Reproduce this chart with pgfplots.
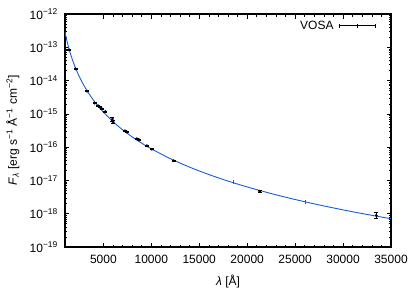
\documentclass[border=0pt]{standalone}
\usepackage{pgfplots}
\pgfplotsset{compat=1.18}
\usepackage{pgfplotstable}
\usepackage{fontspec}
\setmainfont{Liberation Sans}
\definecolor{modelblue}{rgb}{0.10,0.36,0.85}

\pgfplotstableread{
x y e
1420 8.4e-14 2.0e-15
2100 2.25e-14 6.0e-16
3300 4.8e-15 1.5e-16
4100 2.1e-15 6.0e-17
4450 1.75e-15 5.0e-17
4650 1.6e-15 5.0e-17
4850 1.42e-15 4.0e-17
5200 1.18e-15 3.0e-17
5950 7.0e-16 1.0e-16
6020 5.7e-16 6.0e-17
7250 3.1e-16 1.0e-17
7450 2.85e-16 1.0e-17
8500 1.8e-16 5.0e-18
8750 1.65e-16 5.0e-18
9540 1.10e-16 3.0e-18
10060 8.7e-17 2.5e-18
12323 3.9e-17 1.2e-18
21313 4.7e-18 3.0e-19
33469 8.9e-19 1.8e-19
}\vosa

\pgfplotstableread{
x y
1000 2.858e-13
1100 2.089e-13
1200 1.567e-13
1300 1.201e-13
1400 9.38e-14
1500 7.44e-14
1700 4.88e-14
1900 3.35e-14
2100 2.378e-14
2400 1.502e-14
2700 9.99e-15
3000 6.92e-15
3500 4.03e-15
4000 2.51e-15
4500 1.650e-15
5000 1.131e-15
6000 5.85e-16
7000 3.33e-16
8000 2.04e-16
9000 1.318e-16
10000 8.91e-17
12000 4.49e-17
14000 2.507e-17
16000 1.506e-17
18000 9.58e-18
20000 6.38e-18
22500 4.04e-18
25000 2.675e-18
27500 1.840e-18
30000 1.305e-18
32500 9.51e-19
35000 7.08e-19
}\model

\begin{document}
\fontsize{12bp}{14bp}\selectfont
\begin{tikzpicture}
\useasboundingbox (-65bp,-44bp) rectangle (350bp,247bp);
\begin{axis}[
  at={(0,0)}, anchor=south west,
  scale only axis, width=326bp, height=233bp,
  ymode=log,
  xmin=1000, xmax=35000,
  ymin=1e-19, ymax=1e-12,
  xtick={5000,10000,15000,20000,25000,30000,35000},
  minor x tick num=4,
  ytick={1e-19,1e-18,1e-17,1e-16,1e-15,1e-14,1e-13,1e-12},
  yticklabels={10\textsuperscript{−19},10\textsuperscript{−18},10\textsuperscript{−17},10\textsuperscript{−16},10\textsuperscript{−15},10\textsuperscript{−14},10\textsuperscript{−13},10\textsuperscript{−12}},
  scaled x ticks=false,
  /pgf/number format/assume math mode=true,
  xticklabel style={/pgf/number format/1000 sep={}, yshift=-4bp},
  yticklabel style={xshift=-3bp},
  tick align=inside,
  major tick length=4.5bp, minor tick length=2.5bp,
  axis line style={line width=1.1pt},
  every tick/.style={black, line width=0.6pt},
  tick label style={font=\fontsize{12bp}{14bp}\selectfont},
  label style={font=\fontsize{12bp}{14bp}\selectfont},
  xlabel={\textit{λ} [Å]},
  ylabel={\textit{F}\textsubscript{\textit{λ}} [erg s\textsuperscript{−1} Å\textsuperscript{−1} cm\textsuperscript{−2}]},
  every axis x label/.style={at={(axis description cs:0.5,-0.150)}, anchor=center},
  every axis y label/.style={at={(axis description cs:-0.160,0.5)}, anchor=center, rotate=90},
  legend plot pos=right,
  legend style={at={(axis description cs:0.955,0.985)}, anchor=north east, draw=none, fill=none,
    font=\fontsize{12bp}{14bp}\selectfont, inner sep=1bp, nodes={inner sep=2bp}, column sep=3bp},
  legend cell align=right,
]
\addplot[modelblue, line width=0.9pt, smooth, forget plot] table[x=x,y=y] {\model};
\addplot[modelblue, only marks, mark=|, mark size=2bp, forget plot, mark options={yshift=1bp}] coordinates {(18530,8.55e-18) (26020,2.05e-18)};
\addplot[black, only marks, mark=*, mark size=1.2bp,
  legend image code/.code={
    \draw[black, line width=0.6pt] (0bp,0bp) -- (36bp,0bp);
    \draw[black, line width=0.6pt] (0bp,-2bp) -- (0bp,2bp) (36bp,-2bp) -- (36bp,2bp) (18bp,-2bp) -- (18bp,2bp);
  },
  error bars/.cd, y dir=both, y explicit,
  error bar style={black, line width=0.6pt},
  error mark options={rotate=90, mark size=2bp, black, line width=0.6pt}]
  table[x=x, y=y, y error=e] {\vosa};
\legend{VOSA}
\end{axis}
\end{tikzpicture}
\end{document}
